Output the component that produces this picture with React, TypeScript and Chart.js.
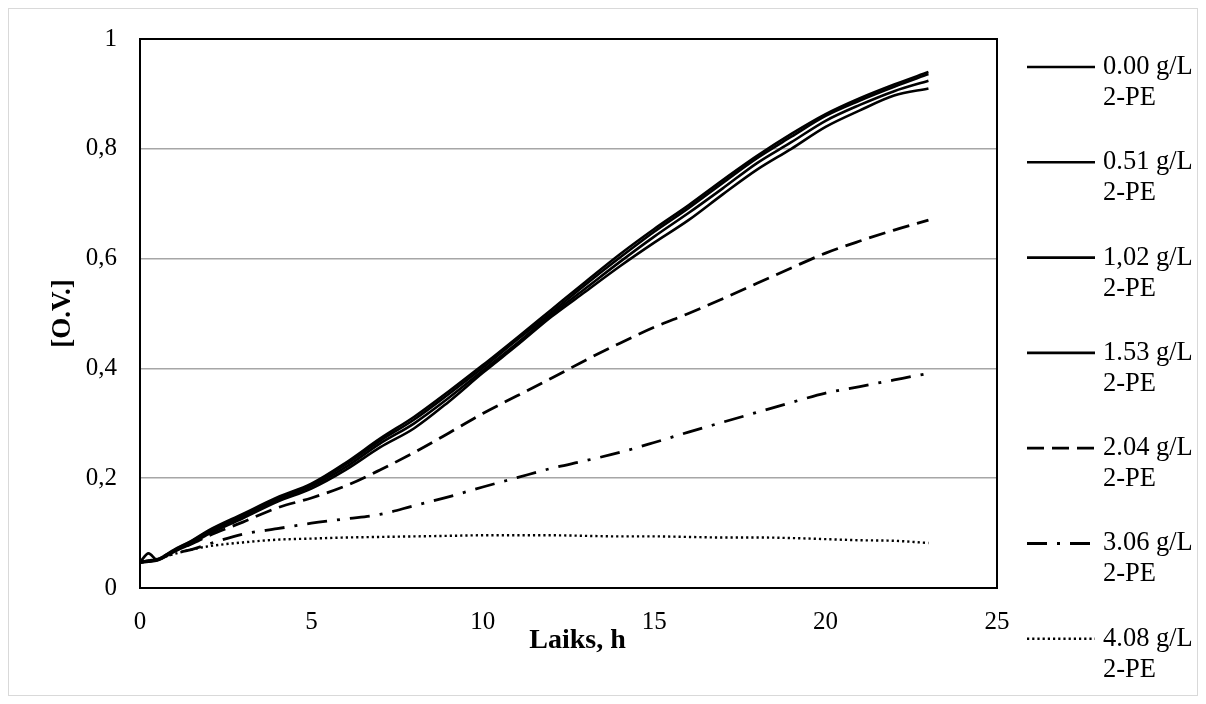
import React, { useEffect, useRef } from "react";
import { Chart, registerables } from "chart.js";

Chart.register(...registerables);

const hours = [0, 0.25, 0.5, 1, 1.5, 2, 3, 4, 5, 6, 7, 8, 9, 10, 11, 12, 13, 14, 15, 16, 17, 18, 19, 20, 21, 22, 23];

const od000 = [0.047, 0.05, 0.052, 0.07, 0.086, 0.105, 0.135, 0.165, 0.19, 0.228, 0.272, 0.312, 0.358, 0.406, 0.456, 0.507, 0.558, 0.608, 0.654, 0.697, 0.743, 0.787, 0.827, 0.863, 0.892, 0.917, 0.94];
const od051 = [0.047, 0.063, 0.051, 0.069, 0.085, 0.103, 0.133, 0.163, 0.188, 0.225, 0.268, 0.307, 0.353, 0.401, 0.452, 0.502, 0.553, 0.602, 0.649, 0.692, 0.738, 0.783, 0.822, 0.86, 0.888, 0.913, 0.936];
const od102 = [0.047, 0.049, 0.051, 0.068, 0.083, 0.1, 0.13, 0.16, 0.185, 0.22, 0.263, 0.3, 0.346, 0.396, 0.446, 0.498, 0.546, 0.594, 0.64, 0.683, 0.728, 0.774, 0.812, 0.851, 0.88, 0.905, 0.924];
const od153 = [0.046, 0.048, 0.05, 0.066, 0.081, 0.098, 0.127, 0.157, 0.181, 0.215, 0.256, 0.291, 0.339, 0.392, 0.442, 0.494, 0.54, 0.586, 0.629, 0.67, 0.717, 0.762, 0.8, 0.84, 0.87, 0.897, 0.91];
const od204 = [0.047, 0.049, 0.052, 0.068, 0.08, 0.095, 0.12, 0.146, 0.164, 0.186, 0.215, 0.247, 0.282, 0.318, 0.35, 0.382, 0.415, 0.446, 0.475, 0.5, 0.527, 0.555, 0.583, 0.61, 0.632, 0.652, 0.67];
const od306 = [0.047, 0.049, 0.052, 0.063, 0.07, 0.08, 0.098, 0.108, 0.118, 0.126, 0.134, 0.15, 0.166, 0.184, 0.201, 0.218, 0.232, 0.247, 0.265, 0.284, 0.302, 0.32, 0.338, 0.355, 0.367, 0.379, 0.391];
const od408 = [0.047, 0.05, 0.053, 0.062, 0.07, 0.076, 0.083, 0.088, 0.09, 0.092, 0.093, 0.094, 0.095, 0.096, 0.096, 0.096, 0.095, 0.094, 0.094, 0.093, 0.092, 0.092, 0.091, 0.089, 0.087, 0.086, 0.082];

const seriesLabels = ["0.00 g/L", "0.51 g/L", "1,02 g/L", "1.53 g/L", "2.04 g/L", "3.06 g/L", "4.08 g/L"];
const seriesSub = "2-PE";
const seriesValues = [od000, od051, od102, od153, od204, od306, od408];
const seriesDash: number[][] = [[], [], [], [], [17, 8], [20, 10, 3, 10], [2.2, 3]];
const seriesWidth = [2.6, 2.6, 2.6, 2.6, 2.8, 2.8, 2.4];

const yTicks = [0, 0.2, 0.4, 0.6, 0.8, 1];
const xTicks = [0, 5, 10, 15, 20, 25];
const xTitle = "Laiks, h";
const yTitle = "[O.V.]";

const FONT = "'Liberation Serif', 'Times New Roman', serif";

export default function App() {
  const ref = useRef<HTMLCanvasElement | null>(null);

  useEffect(() => {
    if (!ref.current) return;

    const frame = {
      id: "frame",
      afterDatasetsDraw(chart: any) {
        const { ctx, chartArea } = chart;
        ctx.save();
        ctx.strokeStyle = "#000";
        ctx.lineWidth = 2;
        ctx.strokeRect(chartArea.left, chartArea.top, chartArea.right - chartArea.left, chartArea.bottom - chartArea.top);
        ctx.restore();
      },
    };

    const titles = {
      id: "axisTitles",
      afterDraw(chart: any) {
        const { ctx, chartArea } = chart;
        ctx.save();
        ctx.fillStyle = "#000";
        ctx.font = `bold 28px ${FONT}`;
        ctx.textAlign = "center";
        ctx.textBaseline = "middle";
        ctx.fillText(xTitle, (chartArea.left + chartArea.right) / 2 + 9, chartArea.bottom + 53);
        ctx.translate(54, (chartArea.top + chartArea.bottom) / 2);
        ctx.rotate(-Math.PI / 2);
        ctx.font = `bold 27px ${FONT}`;
        ctx.fillText(yTitle, 0, 0);
        ctx.restore();
      },
    };

    const legend = {
      id: "customLegend",
      afterDraw(chart: any) {
        const { ctx } = chart;
        ctx.save();
        chart.data.datasets.forEach((ds: any, i: number) => {
          const y = 58 + i * 95.3;
          ctx.beginPath();
          ctx.strokeStyle = "#000";
          ctx.lineWidth = ds.borderWidth;
          ctx.setLineDash(ds.borderDash || []);
          ctx.moveTo(1018, y);
          ctx.lineTo(1086, y);
          ctx.stroke();
          ctx.setLineDash([]);
          ctx.fillStyle = "#000";
          ctx.font = `26.5px ${FONT}`;
          ctx.textBaseline = "middle";
          ctx.textAlign = "left";
          ctx.fillText(ds.label, 1094, y);
          ctx.fillText(seriesSub, 1094, y + 31);
        });
        ctx.restore();
      },
    };

    const chart = new Chart(ref.current, {
      type: "line",
      data: {
        datasets: seriesValues.map((vals, i) => ({
          label: seriesLabels[i],
          data: hours.map((h, j) => ({ x: h, y: vals[j] })),
          borderColor: "#000",
          backgroundColor: "#000",
          borderWidth: seriesWidth[i],
          borderDash: seriesDash[i],
          pointRadius: 0,
          fill: false,
          cubicInterpolationMode: "monotone" as const,
        })),
      },
      options: {
        animation: false,
        responsive: false,
        maintainAspectRatio: false,
        layout: { padding: { top: 30, right: 200, left: 0, bottom: 0 } },
        plugins: {
          legend: { display: false },
          tooltip: { enabled: false },
        },
        scales: {
          x: {
            type: "linear",
            min: 0,
            max: 25,
            afterBuildTicks(axis: any) {
              axis.ticks = xTicks.map((v) => ({ value: v }));
            },
            afterFit(axis: any) {
              axis.height = 107;
              axis.paddingLeft = 0;
              axis.paddingRight = 0;
            },
            grid: { display: false, drawTicks: false },
            border: { display: false },
            ticks: {
              color: "#000",
              padding: 19,
              font: { family: FONT, size: 25 },
              maxRotation: 0,
            },
            title: { display: false, text: xTitle },
          },
          y: {
            type: "linear",
            min: 0,
            max: 1,
            afterBuildTicks(axis: any) {
              axis.ticks = yTicks.map((v) => ({ value: v }));
            },
            afterFit(axis: any) {
              axis.width = 131;
              axis.paddingTop = 0;
              axis.paddingBottom = 0;
            },
            grid: { color: "#a6a6a6", lineWidth: 1.5, drawTicks: false },
            border: { display: false },
            ticks: {
              color: "#000",
              padding: 23,
              font: { family: FONT, size: 25 },
              callback: (v: any) => String(Number(v).toFixed(1).replace(/\.0$/, "")).replace(".", ","),
            },
            title: { display: false, text: yTitle },
          },
        },
      },
      plugins: [frame, titles, legend],
    });

    return () => chart.destroy();
  }, []);

  return (
    <div
      style={{
        width: 1190,
        height: 688,
        border: "1px solid #d9d9d9",
        boxSizing: "border-box",
        background: "#fff",
      }}
    >
      <canvas ref={ref} width={1188} height={686} style={{ display: "block" }} />
    </div>
  );
}
